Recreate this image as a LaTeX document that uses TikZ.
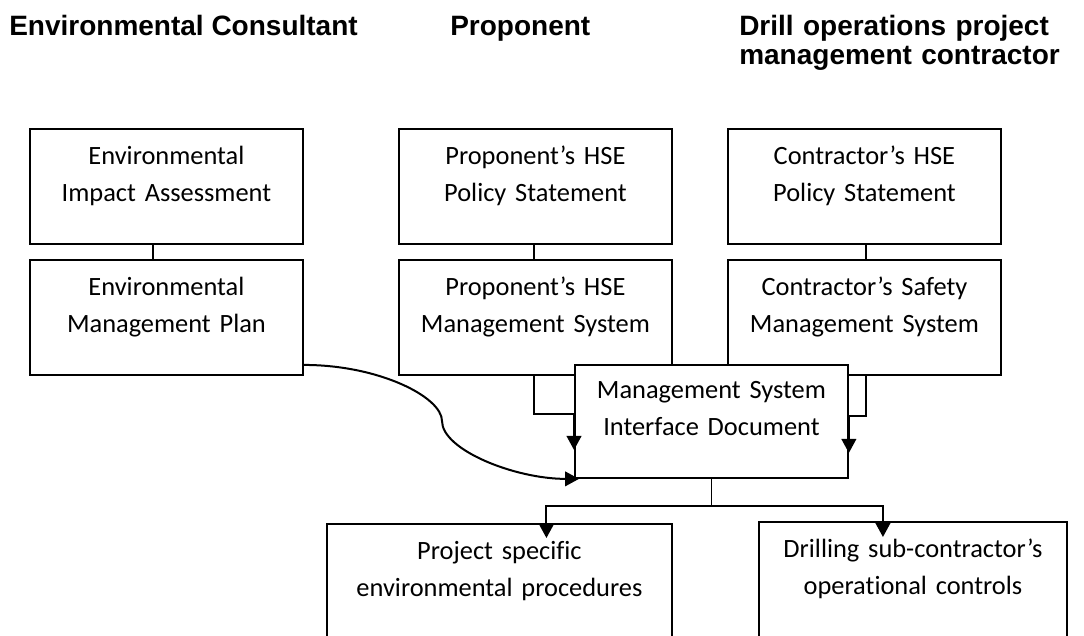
\documentclass[tikz,border=0pt]{standalone}
\usepackage{fontspec}
\setmainfont{Carlito}[Ligatures=NoCommon]
\newfontfamily\headfont{Liberation Sans}
\usepackage{tikz}
\usetikzlibrary{calc}
\usetikzlibrary{arrows.meta}
\usetikzlibrary{positioning}

\begin{document}
\begin{tikzpicture}[x=0.75pt, y=-0.75pt,
        docbox/.style={draw=black, line width=1.4pt, fill=white, inner xsep=0pt, inner ysep=0pt,
                       text width=#1*0.75pt, align=center, text height=27pt, text depth=59.25pt,
                       font=\fontsize{19.8}{27.75}\selectfont},
        docbox/.default=273,
        heading/.style={anchor=base west, inner sep=0pt,
                        font=\headfont\bfseries\fontsize{21}{21.2}\selectfont},
        link/.style={line width=1pt},
        flow/.style={line width=1.5pt, -{Triangle[length=10.5pt, width=11pt]}}]
    \useasboundingbox (0,0) rectangle (1084,635);
    % column headings
    \node[heading]                               (hcons) at (  9, 36) {Environmental Consultant};
    \node[heading]                               (hprop) at (450, 36) {Proponent};
    \node[heading, text width=330pt, align=left] (hcont) at (739, 36) {Drill operations project\\management contractor};
    % policy and system boxes
    \node[docbox, anchor=north west] (eia)  at ( 29,128) {Environmental\\Impact Assessment};
    \node[docbox, anchor=north west] (emp)  at ( 29,259) {Environmental\\Management Plan};
    \node[docbox, anchor=north west] (ppol) at (398,128) {Proponent’s HSE\\Policy Statement};
    \node[docbox, anchor=north west] (phse) at (398,259) {Proponent’s HSE\\Management System};
    \node[docbox, anchor=north west] (cpol) at (727,128) {Contractor’s HSE\\Policy Statement};
    \node[docbox, anchor=north west] (csms) at (727,259) {Contractor’s Safety\\Management System};
    % interface document sits over the two system boxes
    \node[docbox, anchor=north west, text height=25.5pt] (msid) at (574,364) {Management System\\Interface Document};
    % lower boxes
    \node[docbox=345, anchor=north west] (proc) at (326,523) {Project specific\\environmental procedures};
    \node[docbox=308, anchor=north west] (ops)  at (758,521) {Drilling sub-contractor’s\\operational controls};

    \draw[link] ($(eia.south)+(-13.5,0)$) -- ($(emp.north)+(-13.5,0)$);
    \draw[link] ($(ppol.south)+(-1.5,0)$) -- ($(phse.north)+(-1.5,0)$);
    \draw[link] ($(cpol.south)+(1.5,0)$)  -- ($(csms.north)+(1.5,0)$);

    \draw[flow] ($(phse.south)+(-1.5,0)$) -- ++(0,38) -| ($(msid.west)+(0,28.5)$);
    \draw[flow] ($(csms.south)+(1.5,0)$)  -- ++(0,40) -| ($(msid.east)+(0,31.5)$);

    \coordinate (bend) at (442,421);
    \draw[flow] ($(emp.east)+(0,47.5)$) .. controls +(75,0) and +(0,-24) .. (bend)
                                        .. controls +(0,29) and +(-64,0) .. ($(msid.south west)+(5,0)$);

    \draw[link] (msid.south) -- ++(0,27) coordinate (split);
    \draw[flow] (split) -| ($(proc.north)+(47,15)$);
    \draw[flow] (split) -| ($(ops.north)+(-30,16)$);
\end{tikzpicture}
\end{document}
